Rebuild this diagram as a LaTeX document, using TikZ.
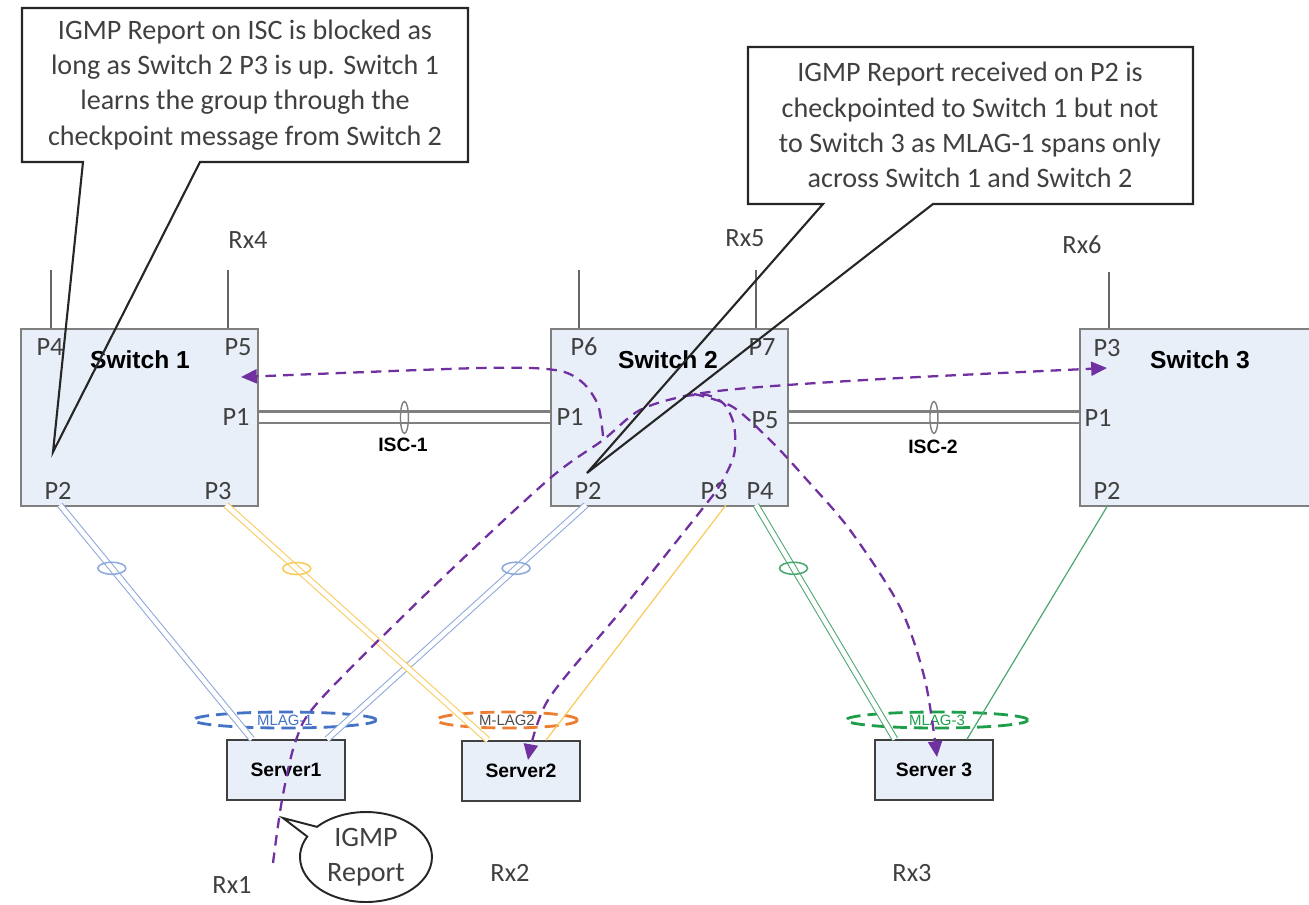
\documentclass[tikz,border=0pt]{standalone}
\usepackage{fontspec}
\setmainfont{Carlito}
\newfontfamily\arialfont{Liberation Sans}
\usetikzlibrary{positioning,shapes.geometric,shapes.callouts,arrows.meta}

\definecolor{boxfill}{HTML}{E9EFF9}
\definecolor{boxline}{HTML}{7F7F7F}
\definecolor{porttext}{HTML}{404040}
\definecolor{flowpurple}{HTML}{7030A0}
\definecolor{linkblue}{HTML}{8EA9DB}
\definecolor{linkorange}{HTML}{F8CB5A}
\definecolor{linkgreen}{HTML}{4EA872}
\definecolor{lagblue}{HTML}{4472C4}
\definecolor{lagorange}{HTML}{ED7D31}
\definecolor{laggreen}{HTML}{1E9E4A}

\tikzset{
  switchbox/.style={draw=boxline, fill=boxfill, line width=1.1pt, minimum width=4.74cm, minimum height=3.54cm, anchor=north west},
  serverbox/.style={draw=porttext, fill=boxfill, line width=0.9pt, minimum width=2.36cm, minimum height=1.2cm, font=\arialfont\bfseries\fontsize{11}{11}\selectfont},
  swname/.style={font=\arialfont\bfseries\fontsize{14}{14}\selectfont},
  port/.style={text=porttext, font=\fontsize{15}{15}\selectfont, inner sep=1pt},
  rxlabel/.style={text=porttext, font=\fontsize{15}{15}\selectfont},
  isclabel/.style={font=\arialfont\bfseries\fontsize{11}{11}\selectfont},
  note/.style={text=porttext, align=center, font=\fontsize{16}{20}\selectfont},
  noteline/.style={draw=black!85, line width=1.2pt, line join=miter},
  bubble/.style={ellipse callout, draw=black!85, line width=1.1pt, fill=white, minimum width=2.64cm, minimum height=1.8cm, inner sep=0pt, text=porttext, align=center, font=\fontsize{16}{20}\selectfont},
  stub/.style={draw=porttext!80, line width=0.7pt},
  isclink/.style={draw=boxline, line width=1.2pt, double=white, double distance=5.6pt},
  bluelink/.style={draw=linkblue, line width=0.6pt, double=white, double distance=2.6pt},
  orangelink/.style={draw=linkorange, line width=0.6pt, double=white, double distance=2.6pt},
  greenlink/.style={draw=linkgreen, line width=0.6pt, double=white, double distance=2.6pt},
  iscmark/.style={ellipse, draw=boxline, line width=0.8pt, minimum width=0.16cm, minimum height=0.64cm, inner sep=0pt},
  lagmark/.style={ellipse, line width=0.9pt, minimum width=0.56cm, minimum height=0.24cm, inner sep=0pt},
  mlag/.style={ellipse, line width=1.6pt, dash pattern=on 8pt off 4pt, minimum height=0.32cm, inner sep=0pt, font=\arialfont\fontsize{8.5}{8.5}\selectfont},
  flow/.style={draw=flowpurple, line width=1.3pt, dash pattern=on 6pt off 4pt, -{Triangle[length=9pt,width=8pt]}},
}

\begin{document}
\begin{tikzpicture}[x=0.02cm, y=-0.02cm]
\useasboundingbox (0,0) rectangle (1309,904);

\node[switchbox] (sw1) at (20,328) {};
\node[switchbox] (sw2) at (550,328) {};
\node[switchbox] (sw3) at (1079,328) {};
\node[swname] (sw1name) at (140,360) {Switch 1};
\node[swname] (sw2name) at (668,360) {Switch 2};
\node[swname] (sw3name) at (1200,360) {Switch 3};

\node[port] (s1p4) at (50,347) {P4};
\node[port] (s1p5) at (238,347) {P5};
\node[port] (s1p1) at (236,417) {P1};
\node[port] (s1p2) at (58,491) {P2};
\node[port] (s1p3) at (218,491) {P3};
\node[port] (s2p6) at (584,347) {P6};
\node[port] (s2p7) at (762,347) {P7};
\node[port] (s2p1) at (570,417) {P1};
\node[port] (s2p5) at (765,420) {P5};
\node[port] (s2p2) at (588,491) {P2};
\node[port] (s2p3) at (714,491) {P3};
\node[port] (s2p4) at (760,491) {P4};
\node[port] (s3p3) at (1107,348) {P3};
\node[port] (s3p1) at (1098,418) {P1};
\node[port] (s3p2) at (1107,491) {P2};

\coordinate (s1p4top) at (51,270);
\coordinate (s1p5top) at (228,270);
\coordinate (s2p6top) at (579,270);
\coordinate (s2p7top) at (756,270);
\coordinate (s3p3top) at (1109,272);
\draw[stub] (s1p4top) -- (s1p4top |- sw1.north);
\draw[stub] (s1p5top) -- (s1p5top |- sw1.north);
\draw[stub] (s2p6top) -- (s2p6top |- sw2.north);
\draw[stub] (s2p7top) -- (s2p7top |- sw2.north);
\draw[stub] (s3p3top) -- (s3p3top |- sw3.north);
\node[rxlabel] (rx4) at (248,240) {Rx4};
\node[rxlabel] (rx5) at (745,238) {Rx5};
\node[rxlabel] (rx6) at (1082,245) {Rx6};

\draw[isclink] (sw1.east) -- (sw2.west);
\draw[isclink] (sw2.east) -- (sw3.west);
\path (sw1.east) -- (sw2.west) node[pos=0.5, iscmark] {};
\path (sw2.east) -- (sw3.west) node[pos=0.5, iscmark] {};
\node[isclabel] (isc1) at (403,445) {ISC-1};
\node[isclabel] (isc2) at (933,447) {ISC-2};

\node[serverbox] (server1) at (286,770) {Server1};
\node[serverbox] (server2) at (521,771) {Server2};
\node[serverbox] (server3) at (934,770) {Server 3};

\node[mlag, draw=lagblue, text=lagblue, minimum width=3.66cm] (mlag1) at (285,720) {MLAG-1};
\node[mlag, draw=lagorange, text=black!70, minimum width=2.82cm] (mlag2) at (507,720) {M-LAG2};
\node[mlag, draw=laggreen, text=laggreen, minimum width=3.64cm] (mlag3) at (937,720) {MLAG-3};

\coordinate (s1p2b) at (60,505);
\coordinate (s1p3b) at (226,505);
\coordinate (s2p2b) at (586,505);
\coordinate (s2p3b) at (726,505);
\coordinate (s2p4b) at (756,505);
\coordinate (s3p2b) at (1108,505);
\draw[bluelink] (s1p2b) -- ([xshift=-0.68cm]server1.north);
\draw[bluelink] (s2p2b) -- ([xshift=0.82cm]server1.north);
\draw[orangelink] (s1p3b) -- ([xshift=-0.66cm]server2.north);
\draw[draw=linkorange, line width=0.7pt] (s2p3b) -- ([xshift=0.5cm]server2.north);
\draw[greenlink] (s2p4b) -- ([xshift=-0.78cm]server3.north);
\draw[draw=linkgreen, line width=0.7pt] (s3p2b) -- ([xshift=0.66cm]server3.north);
\path (s1p2b) -- ([xshift=-0.68cm]server1.north) node[pos=0.27, lagmark, draw=linkblue] {};
\path (s2p2b) -- ([xshift=0.82cm]server1.north) node[pos=0.27, lagmark, draw=linkblue] {};
\path (s1p3b) -- ([xshift=-0.66cm]server2.north) node[pos=0.27, lagmark, draw=linkorange] {};
\path (s2p4b) -- ([xshift=-0.78cm]server3.north) node[pos=0.27, lagmark, draw=linkgreen] {};

\coordinate (rx1src) at (273,863);
\coordinate (sw3in) at (1107,368);
\coordinate (sw1in) at (241,377);
\coordinate (sv2in) at (528,760);
\coordinate (sv3in) at (937,757);
\draw[flow] plot[smooth] coordinates {(rx1src) (282,800) (296,740) (320,700) (430,590) (548,480) (603,440) (640,410) (690,395) (760,387) (900,378) (sw3in)};
\draw[flow] plot[smooth] coordinates {(603,436) (598,405) (582,382) (555,370) (480,368) (sw1in)};
\draw[flow] plot[smooth] coordinates {(684,396) (707,395) (724,404) (734,425) (734,455) (720,485) (703,508) (620,612) (548,700) (sv2in)};
\draw[flow] plot[smooth] coordinates {(694,394) (733,407) (773,443) (807,480) (850,530) (900,607) (925,680) (sv3in)};

\coordinate (igmptip) at (283,818);
\node[bubble, callout absolute pointer={(igmptip)}] (igmp) at (366,857) {IGMP\\Report};
\node[rxlabel] (rx1) at (232,885) {Rx1};
\node[rxlabel] (rx2) at (510,873) {Rx2};
\node[rxlabel] (rx3) at (912,873) {Rx3};

\node[note] (note1) at (245,85) {IGMP Report on ISC is blocked as\\long as Switch 2 P3 is up. Switch 1\\learns the group through the\\checkpoint message from Switch 2};
\draw[noteline] (22,8) -- (468,8) -- (468,162) -- (200,162) -- (53,452) -- (83,162) -- (22,162) -- cycle;
\node[note] (note2) at (970,125) {IGMP Report received on P2 is\\checkpointed to Switch 1 but not\\to Switch 3 as MLAG-1 spans only\\across Switch 1 and Switch 2};
\draw[noteline] (748,47) -- (1193,47) -- (1193,204) -- (933,204) -- (587,473) -- (823,204) -- (748,204) -- cycle;
\end{tikzpicture}
\end{document}
